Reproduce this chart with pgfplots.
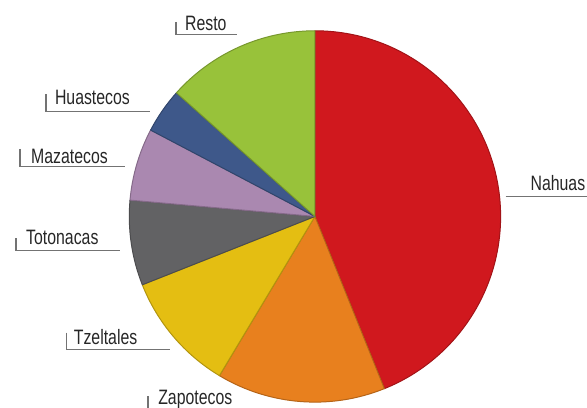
\documentclass[border=0pt]{standalone}
\usepackage{fontspec}
\setmainfont{Liberation Sans}[FakeStretch=0.76]
\usepackage{pgfplots}
\usepackage{pgfplotstable}
\pgfplotsset{compat=1.18}

% slice colours, in table order
\definecolor{c0}{RGB}{208,24,30}   % Nahuas
\definecolor{c1}{RGB}{232,128,30}  % Zapotecos
\definecolor{c2}{RGB}{228,190,18}  % Tzeltales
\definecolor{c3}{RGB}{98,98,100}   % Totonacas
\definecolor{c4}{RGB}{170,136,176} % Mazatecos
\definecolor{c5}{RGB}{62,88,138}   % Huastecos
\definecolor{c6}{RGB}{152,194,58}  % Resto

% share of each group, in percent (clockwise from the top)
\pgfplotstableread{
etnia valor
Nahuas 43.9
Zapotecos 14.7
Tzeltales 10.4
Totonacas 7.4
Mazatecos 6.3
Huastecos 3.9
Resto 13.4
}\datos

\def\cx{313}
\def\cy{192}
\def\rad{187}

\begin{document}
% start and end angle of every slice
\def\acum{90}
\pgfplotsforeachungrouped \i in {0,...,6}{%
  \pgfplotstablegetelem{\i}{valor}\of\datos
  \pgfmathsetmacro\fin{\acum-3.6*\pgfplotsretval}%
  \pgfmathsetmacro\sx{\cx+\rad*cos(\acum)}%
  \pgfmathsetmacro\sy{\cy+\rad*sin(\acum)}%
  \expandafter\xdef\csname ini\i\endcsname{\acum}%
  \expandafter\xdef\csname fin\i\endcsname{\fin}%
  \expandafter\xdef\csname sx\i\endcsname{\sx}%
  \expandafter\xdef\csname sy\i\endcsname{\sy}%
  \xdef\acum{\fin}%
}
\begin{tikzpicture}
\begin{axis}[
  x=1bp, y=1bp,
  xmin=0, xmax=587, ymin=0, ymax=410,
  disabledatascaling,
  hide axis,
  clip=false,
]
\pgfplotsinvokeforeach{0,...,6}{
  \fill[c#1, draw=c#1!78!black, line width=1bp, line join=round]
    (axis cs:\cx,\cy) -- (axis cs:\csname sx#1\endcsname,\csname sy#1\endcsname)
    arc[start angle=\csname ini#1\endcsname, end angle=\csname fin#1\endcsname, radius=\rad bp] -- cycle;
}

% leader lines
\draw[black!55, line width=1.3bp]
  (axis cs:173,388) -- (axis cs:173,375) -- (axis cs:234,375)
  (axis cs:42,315) -- (axis cs:42,298) -- (axis cs:147,298)
  (axis cs:16,260) -- (axis cs:16,242) -- (axis cs:122,242)
  (axis cs:12,170) -- (axis cs:12,158) -- (axis cs:117,158)
  (axis cs:63,75) -- (axis cs:63,58) -- (axis cs:167,58)
  (axis cs:145,11) -- (axis cs:145,-8)
  (axis cs:505,212) -- (axis cs:587,212);

\begin{scope}[every node/.style={anchor=base west, inner sep=0pt, text=black!85,
    font=\fontsize{21bp}{23bp}\selectfont}]
\node at (axis cs:182,379.5) {Resto};
\node at (axis cs:51,305) {Huastecos};
\node at (axis cs:27,245) {Mazatecos};
\node at (axis cs:22,164) {Totonacas};
\node at (axis cs:70,63) {Tzeltales};
\node at (axis cs:155,3) {Zapotecos};
\node at (axis cs:530,218) {Nahuas};
\end{scope}
\end{axis}
\pgfresetboundingbox
\useasboundingbox (0,0) rectangle (587bp,410bp);
\end{tikzpicture}
\end{document}
